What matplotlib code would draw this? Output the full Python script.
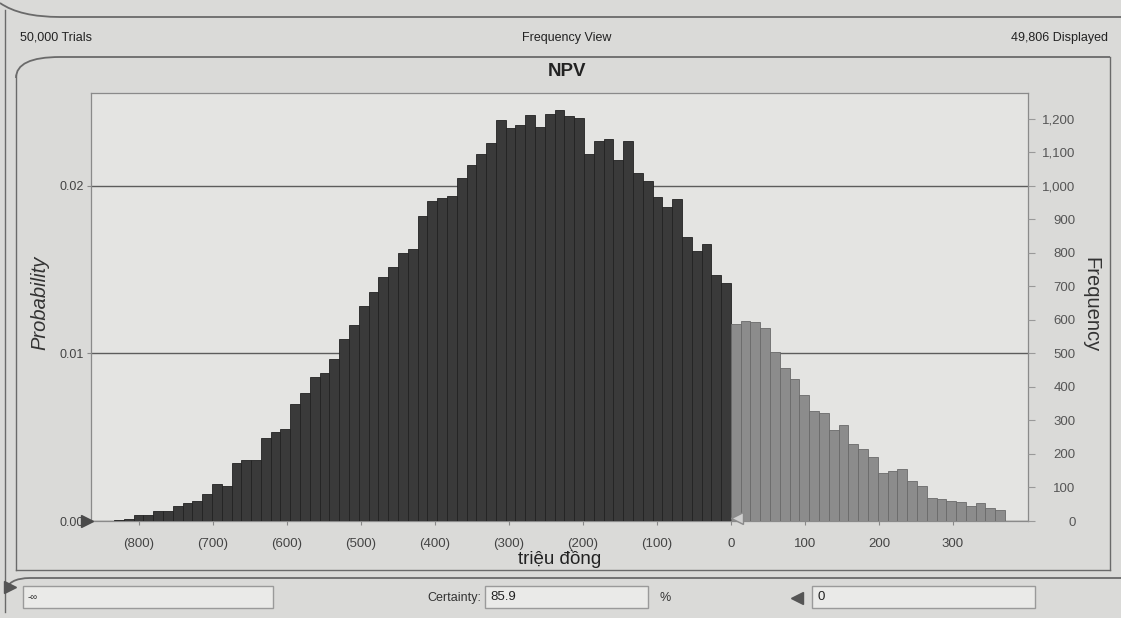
import matplotlib.pyplot as plt
import numpy as np
from matplotlib.path import Path
from matplotlib.patches import PathPatch, Rectangle
from matplotlib.ticker import FuncFormatter, FixedLocator

plt.rcParams['font.family'] = ['Liberation Sans', 'DejaVu Sans']

# DATA
trials = 50000
displayed = 49806
certainty = 85.9
split_value = 0
bin_start = -833.5
bin_width = 13.23

freq_counts = [
    4, 6, 18, 18, 30, 30, 46, 54, 61, 81,
    111, 105, 172, 182, 182, 247, 267, 275, 349, 382,
    431, 442, 484, 543, 585, 643, 683, 729, 757, 800,
    812, 911, 956, 963, 971, 1023, 1061, 1096, 1127, 1198,
    1172, 1183, 1210, 1177, 1215, 1225, 1208, 1203, 1096, 1135,
    1140, 1076, 1133, 1039, 1016, 966, 936, 960, 847, 805,
    827, 734, 710, 588, 596, 594, 576, 503, 457, 424,
    377, 328, 323, 271, 286, 230, 214, 192, 143, 150,
    156, 118, 103, 70, 65, 60, 57, 44, 54, 38, 32,
]

x_ticks = [-800, -700, -600, -500, -400, -300, -200, -100, 0, 100, 200, 300]
freq_ticks = [0, 100, 200, 300, 400, 500, 600, 700, 800, 900, 1000, 1100, 1200]
prob_ticks = [0.00, 0.01, 0.02]

#COLOURS
page_bg = '#dadad8'
plot_bg = '#e4e4e2'
box_bg = '#eaeae8'
dark_bar = '#3a3a3a'
light_bar = '#8c8c8c'
frame_col = '#6a6a6a'

W, H = 1121, 618
fig = plt.figure(figsize=(W / 100, H / 100), dpi=100, facecolor=page_bg)

# overlay in pixel coords for the window frame
over = fig.add_axes([0, 0, 1, 1], zorder=0)
over.set_xlim(0, W)
over.set_ylim(H, 0)
over.axis('off')


def curve(p0, c, p1, p2):
    verts = [p0, c, p1, p2]
    codes = [Path.MOVETO, Path.CURVE3, Path.CURVE3, Path.LINETO]
    over.add_patch(PathPatch(Path(verts, codes), fill=False, ec=frame_col, lw=1.3))


curve((0, 3), (20, 17), (60, 17), (W, 17))
curve((16, 78), (16, 57), (60, 57), (1110, 57))
curve((5, 592), (8, 578), (30, 578), (W, 578))
over.plot([5, 5], [10, 612], color=frame_col, lw=1.0)
over.plot([16, 16], [75, 570], color=frame_col, lw=1.0)
over.plot([1110, 1110], [57, 570], color=frame_col, lw=1.0)
over.plot([16, 1110], [570, 570], color=frame_col, lw=1.0)

# bottom controls
for x0, x1 in [(23, 273), (485, 648), (812, 1035)]:
    over.add_patch(Rectangle((x0, 586), x1 - x0, 22, fc=box_bg, ec='#9a9a9a', lw=1.0))
over.plot([10], [587], marker='>', ms=8, color='#555555')
over.plot([797], [598], marker='<', ms=8, color='#555555')
over.text(28, 597, '-\u221e', fontsize=7, va='center', ha='left', color='#333333')
over.text(481, 598, 'Certainty:', fontsize=9, va='center', ha='right', color='#333333')
over.text(490, 597, f'{certainty}', fontsize=9.5, va='center', ha='left', color='#222222')
over.text(665, 598, '%', fontsize=9, va='center', ha='center', color='#333333')
over.text(818, 597, f'{split_value}', fontsize=9.5, va='center', ha='left', color='#222222')

# header
over.text(20, 38, f'{trials:,} Trials', fontsize=9, va='center', ha='left', color='#222222')
over.text(567, 38, 'Frequency View', fontsize=9, va='center', ha='center', color='#222222')
over.text(1108, 38, f'{displayed:,} Displayed', fontsize=9, va='center', ha='right', color='#222222')
over.text(567, 71, 'NPV', fontsize=13.5, fontweight='bold', va='center', ha='center', color='#222222')

# MAIN PLOT
ax = fig.add_axes([90.7 / W, 1 - 521 / H, (1027.7 - 90.7) / W, (521 - 92.7) / H], zorder=2)
ax.set_facecolor(plot_bg)

lefts = bin_start + bin_width * np.arange(len(freq_counts))
colors = [dark_bar if l + bin_width <= split_value else light_bar for l in lefts]
edges = ['#222222' if c == dark_bar else '#6a6a6a' for c in colors]
ax.bar(lefts, freq_counts, width=bin_width, align='edge', color=colors,
       edgecolor=edges, linewidth=0.6, zorder=3)

ax.set_xlim(-865, 401)
ax.set_ylim(0, 1278)

ax.set_axisbelow(True)
ax.yaxis.set_major_locator(FixedLocator([p * trials for p in prob_ticks]))
ax.yaxis.set_major_formatter(FuncFormatter(lambda v, pos: f'{v / trials:.2f}'))
ax.yaxis.grid(True, color='#5c5c5c', lw=1.0)

ax.set_xticks(x_ticks)
ax.xaxis.set_major_formatter(FuncFormatter(
    lambda v, pos: f'({abs(int(v))})' if v < 0 else f'{int(v)}'))
ax.tick_params(axis='both', labelsize=9, labelcolor='#444444', color='#888888',
               length=3, width=0.8, pad=2)
ax.tick_params(axis='x', labelsize=9.5, pad=9)

for s in ax.spines.values():
    s.set_color('#8a8a8a')
    s.set_linewidth(0.9)

ax.set_xlabel('tri\u1ec7u \u0111\u1ed3ng', fontsize=13.5, color='#222222', labelpad=0)

ax2 = ax.twinx()
ax2.set_ylim(ax.get_ylim())
ax2.set_yticks(freq_ticks)
ax2.yaxis.set_major_formatter(FuncFormatter(lambda v, pos: f'{int(v):,}'))
ax2.tick_params(axis='y', labelsize=9.5, labelcolor='#555555', color='#999999',
                length=5, width=0.8, pad=29.5)
for lab in ax2.get_yticklabels():
    lab.set_horizontalalignment('right')
for s in ax2.spines.values():
    s.set_visible(False)

fig.text(40 / W, 1 - 303 / H, 'Probability', rotation=90, fontsize=14.5, fontstyle='italic',
         va='center', ha='center', color='#333333')
fig.text(1091 / W, 1 - 305 / H, 'Frequency', rotation=-90, fontsize=14.5,
         va='center', ha='center', color='#333333')

# certainty grabbers
ax.plot([-0.004], [0], marker='>', ms=9, color='#4a4a4a', transform=ax.get_yaxis_transform(),
        clip_on=False, zorder=6)
ax.plot([split_value + 8], [10], marker='<', ms=9, mfc='#cfcfcf', mec='#8a8a8a',
        clip_on=False, zorder=6)

fig.savefig('out.png', dpi=100, facecolor=page_bg)
